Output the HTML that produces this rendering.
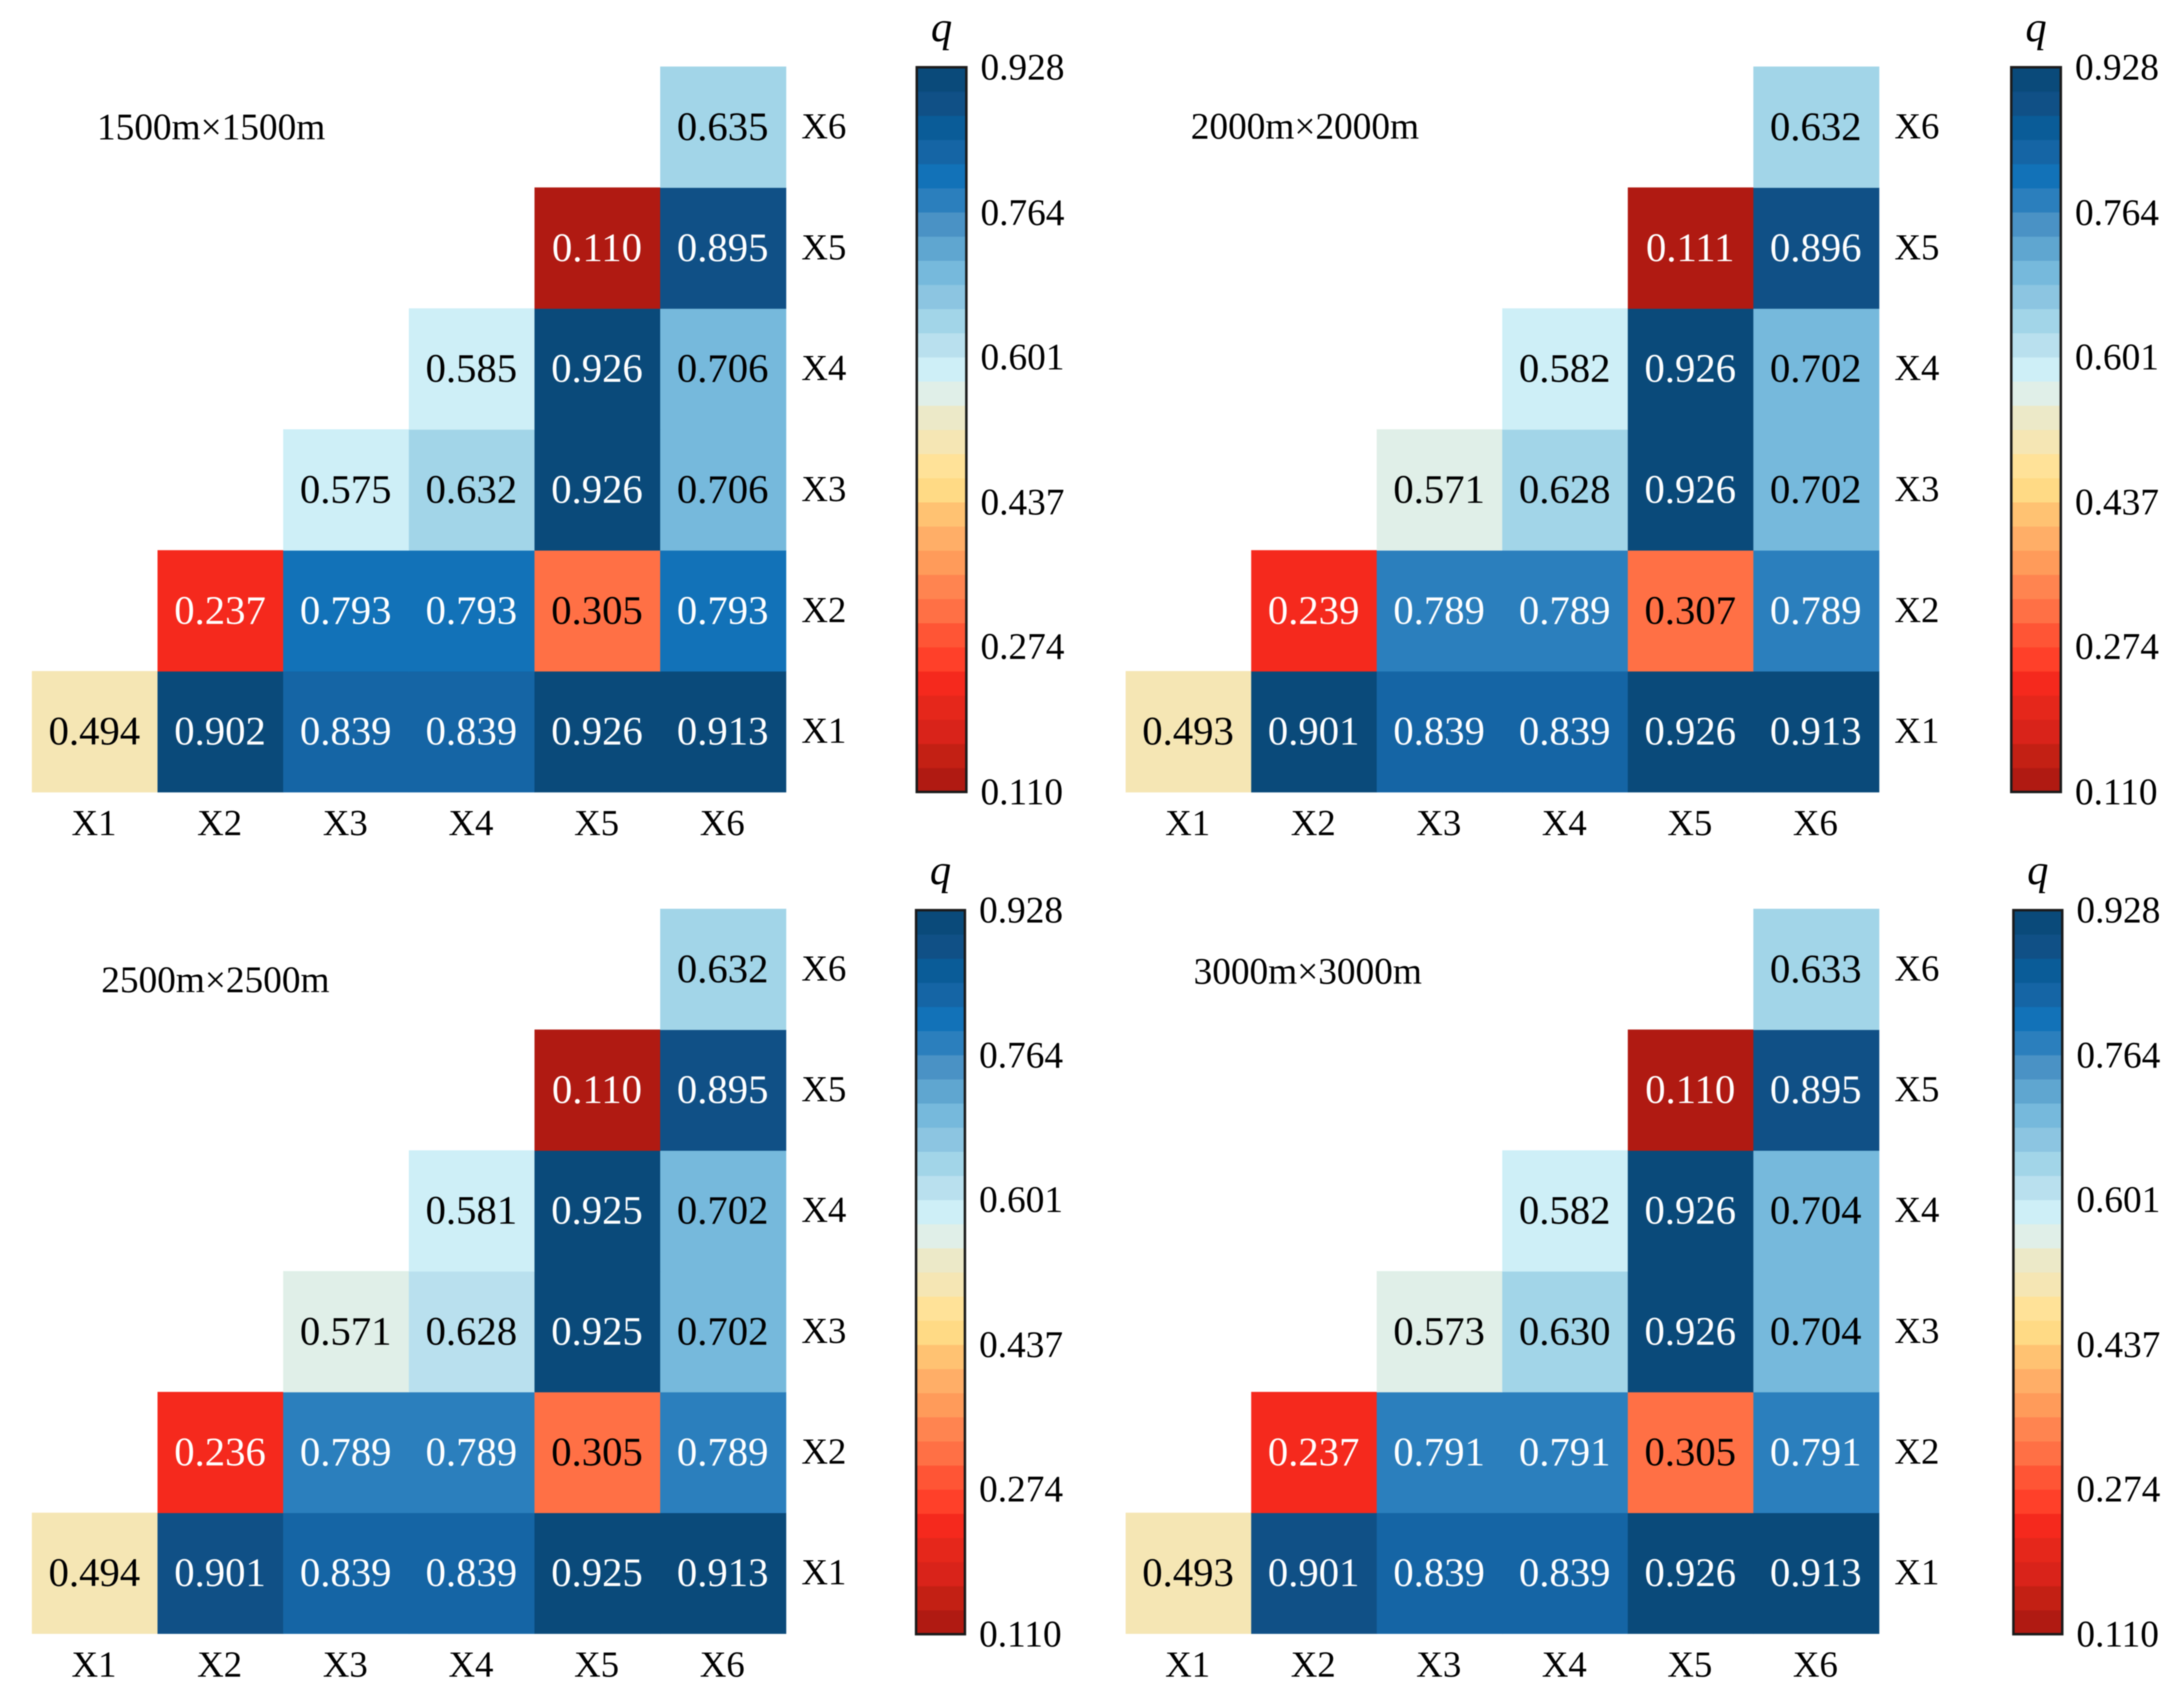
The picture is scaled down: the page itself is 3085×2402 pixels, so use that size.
<!DOCTYPE html>
<html lang="en">
<head>
<meta charset="utf-8">
<title>q heatmaps at four grid sizes</title>
<style>
html,body{margin:0;padding:0;background:#fff;}
svg{display:block;filter:blur(0.7px);}
text{font-family:"Liberation Serif",serif;}
</style>
</head>
<body>
<svg id="chart" xmlns="http://www.w3.org/2000/svg" width="3085" height="2402" viewBox="0 0 3085 2402"></svg>
<script>
// ---- data ----
const categories = ['X1', 'X2', 'X3', 'X4', 'X5', 'X6'];
const colorTicks = [0.928, 0.764, 0.601, 0.437, 0.274, 0.110];
const panelTitles = ['1500m×1500m', '2000m×2000m', '2500m×2500m', '3000m×3000m'];
// rows run X1..X6, each row holds the columns X1..X6 (null = empty)
const values1500 = [
  [0.494, 0.902, 0.839, 0.839, 0.926, 0.913],
  [null, 0.237, 0.793, 0.793, 0.305, 0.793],
  [null, null, 0.575, 0.632, 0.926, 0.706],
  [null, null, null, 0.585, 0.926, 0.706],
  [null, null, null, null, 0.110, 0.895],
  [null, null, null, null, null, 0.635]
];
const values2000 = [
  [0.493, 0.901, 0.839, 0.839, 0.926, 0.913],
  [null, 0.239, 0.789, 0.789, 0.307, 0.789],
  [null, null, 0.571, 0.6283, 0.926, 0.702],
  [null, null, null, 0.582, 0.926, 0.702],
  [null, null, null, null, 0.111, 0.896],
  [null, null, null, null, null, 0.632]
];
const values2500 = [
  [0.494, 0.9006, 0.839, 0.839, 0.925, 0.913],
  [null, 0.236, 0.789, 0.789, 0.305, 0.789],
  [null, null, 0.571, 0.628, 0.925, 0.702],
  [null, null, null, 0.581, 0.925, 0.702],
  [null, null, null, null, 0.110, 0.895],
  [null, null, null, null, null, 0.632]
];
const values3000 = [
  [0.493, 0.9006, 0.839, 0.839, 0.926, 0.913],
  [null, 0.237, 0.791, 0.791, 0.305, 0.791],
  [null, null, 0.573, 0.630, 0.926, 0.704],
  [null, null, null, 0.582, 0.926, 0.704],
  [null, null, null, null, 0.110, 0.895],
  [null, null, null, null, null, 0.633]
];
// discrete colour ramp, low value to high value
const colorRamp = [
  '#b01a12', '#c32014', '#d9231a', '#e5271b', '#f5291d', '#ff4029',
  '#ff5535', '#ff7045', '#ff8450', '#ff9b5a', '#ffae67', '#ffc272',
  '#ffda85', '#ffe298', '#f5e6b4', '#ece9c8', '#e0efe8', '#ceeff7',
  '#b9e0ee', '#a2d5e8', '#8cc5e1', '#76b9dc', '#5fa6d0', '#4a92c5',
  '#2b7fbd', '#1272b8', '#1565a5', '#0a5c98', '#105086', '#0a4a7a'
];
const domainMin = 0.110;
const domainMax = 0.928;

// ---- helpers ----
const NS = 'http://www.w3.org/2000/svg';
const root = document.getElementById('chart');
function node(tag, parent, attrs) {
  const el = document.createElementNS(NS, tag);
  for (const k in attrs) el.setAttribute(k, attrs[k]);
  parent.appendChild(el);
  return el;
}
function colorIndex(v) {
  const t = (v - domainMin) / (domainMax - domainMin);
  return Math.max(0, Math.min(colorRamp.length - 1, Math.floor(t * colorRamp.length)));
}
function valueColor(v) { return colorRamp[colorIndex(v)]; }
function inkColor(v) { return (v < 0.26 || v > 0.75) ? '#ffffff' : '#000000'; }

function drawPanel(opts) {
  const g = node('g', root, {});
  
  
  const n = categories.length;
  const cw = (opts.x1 - opts.x0) / n;
  const ch = (opts.y1 - opts.y0) / n;
  const xAt = i => opts.x0 + i * cw;
  const yAt = r => opts.y1 - (r + 1) * ch;   // row 0 (X1) is the bottom row

  opts.values.forEach((row, r) => {
    row.forEach((v, c) => {
      if (v === null) return;
      const cell = node('rect', g, {x: xAt(c), y: yAt(r), width: cw + 0.6, height: ch + 0.6, fill: valueColor(v)});
      
      
    });
  });
  opts.values.forEach((row, r) => {
    row.forEach((v, c) => {
      if (v === null) return;
      const t = node('text', g, {x: xAt(c) + cw / 2 - 0.5, y: yAt(r) + ch / 2 + 18.5, 'font-size': 57.5, 'text-anchor': 'middle', fill: inkColor(v)});
      t.textContent = v.toFixed(3);
      
      
    });
  });
  categories.forEach((name, i) => {
    const xl = node('text', g, {x: xAt(i) + cw / 2 - 1, y: opts.y1 + 61, 'font-size': 52, 'text-anchor': 'middle', fill: '#000'});
    xl.textContent = name;
    
    
    const yl = node('text', g, {x: opts.x1 + 22, y: yAt(i) + ch / 2 + 16, 'font-size': 52, fill: '#000'});
    yl.textContent = name;
    
    
  });

  const title = node('text', g, {x: opts.titleX, y: opts.titleY + 18, 'font-size': 52.7, fill: '#000'});
  title.textContent = opts.title;
  
  

  // colour bar
  const bar = node('g', g, {});
  
  
  const barY = v => opts.cy1 - (v - domainMin) / (domainMax - domainMin) * (opts.cy1 - opts.cy0);
  const step = (domainMax - domainMin) / colorRamp.length;
  colorRamp.forEach((col, i) => {
    const top = barY(domainMin + (i + 1) * step);
    const bot = barY(domainMin + i * step);
    const seg = node('rect', bar, {x: opts.cx0, y: top, width: opts.cx1 - opts.cx0, height: bot - top + 0.5, fill: col});
    
    
  });
  const frame = node('rect', bar, {x: opts.cx0, y: opts.cy0, width: opts.cx1 - opts.cx0, height: opts.cy1 - opts.cy0, fill: 'none', stroke: '#1a1a1a', 'stroke-width': 3.5});
  
  
  colorTicks.forEach(v => {
    const lab = node('text', bar, {x: opts.cx1 + 20, y: barY(v) + 17.5, 'font-size': 52.7, fill: '#000'});
    lab.textContent = v.toFixed(3);
    
    
  });
  const q = node('text', bar, {x: (opts.cx0 + opts.cx1) / 2, y: opts.cy0 - 37, 'font-size': 60, 'font-style': 'italic', 'text-anchor': 'middle', fill: '#000'});
  q.textContent = 'q';
  
  
}

drawPanel({key: '1500m', values: values1500, title: panelTitles[0],
  x0: 45, x1: 1110, y0: 94, y1: 1119, cx0: 1295, cx1: 1365, cy0: 95, cy1: 1119, titleX: 137, titleY: 179});
drawPanel({key: '2000m', values: values2000, title: panelTitles[1],
  x0: 1590, x1: 2654, y0: 94, y1: 1119, cx0: 2841, cx1: 2911, cy0: 95, cy1: 1119, titleX: 1682, titleY: 178});
drawPanel({key: '2500m', values: values2500, title: panelTitles[2],
  x0: 45, x1: 1110, y0: 1284, y1: 2308, cx0: 1294, cx1: 1363, cy0: 1286, cy1: 2309, titleX: 143, titleY: 1384});
drawPanel({key: '3000m', values: values3000, title: panelTitles[3],
  x0: 1590, x1: 2654, y0: 1284, y1: 2308, cx0: 2844, cx1: 2913, cy0: 1286, cy1: 2309, titleX: 1686, titleY: 1372});
</script>
</body>
</html>
